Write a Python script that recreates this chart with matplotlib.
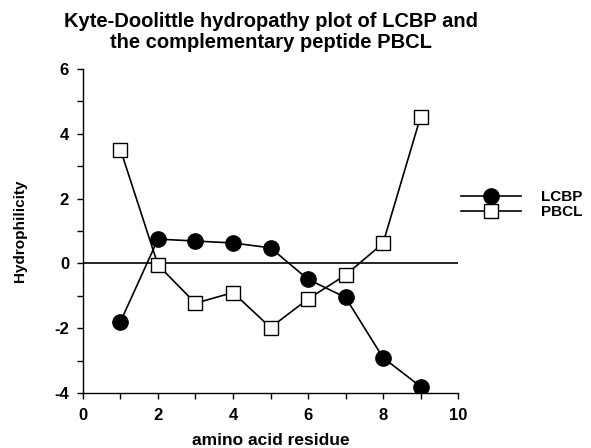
import matplotlib
matplotlib.use("Agg")
import matplotlib.pyplot as plt
from matplotlib.ticker import MultipleLocator

plt.rcParams['font.family'] = ['Liberation Sans', 'DejaVu Sans']
plt.rcParams['font.weight'] = 'bold'
plt.rcParams['axes.unicode_minus'] = False

residue = [1, 2, 3, 4, 5, 6, 7, 8, 9]
lcbp = [-1.8, 0.75, 0.69, 0.63, 0.48, -0.49, -1.05, -2.91, -3.8]
pbcl = [3.51, -0.05, -1.23, -0.9, -1.98, -1.1, -0.36, 0.62, 4.52]

fig = plt.figure(figsize=(5.91, 4.48), dpi=100)
ax = fig.add_axes([0.1404, 0.1228, 0.6346, 0.7232])

l1, = ax.plot(residue, lcbp, color="black", lw=1.2, marker="o", ms=11,
              mfc="black", mec="black", label="LCBP", zorder=3)
l2, = ax.plot(residue, pbcl, color="black", lw=1.2, marker="s", ms=10,
              mfc="white", mec="black", mew=1.0, label="PBCL", zorder=3)
ax.axhline(0, color="black", lw=1.2, zorder=2)

ax.set_xlim(0, 10)
ax.set_ylim(-4, 6)
ax.xaxis.set_major_locator(MultipleLocator(2))
ax.xaxis.set_minor_locator(MultipleLocator(1))
ax.yaxis.set_major_locator(MultipleLocator(2))
ax.yaxis.set_minor_locator(MultipleLocator(1))
ax.tick_params(which="both", direction="out", length=4, width=1)
ax.tick_params(axis="x", labelsize=12, pad=7)
ax.tick_params(axis="y", labelsize=12, pad=6)
for s in ["top", "right"]:
    ax.spines[s].set_visible(False)
ax.spines["left"].set_linewidth(1)
ax.spines["bottom"].set_linewidth(1)

ax.set_xlabel("amino acid residue", fontsize=12.5, fontweight="bold", labelpad=7)
ax.set_ylabel("Hydrophilicity", fontsize=11, fontweight="bold", labelpad=20)

# title, two lines centred over the axes
cx = 0.4585
fig.text(cx, 1 - 27 / 448, "Kyte-Doolittle hydropathy plot of LCBP and",
         ha="center", va="baseline", fontsize=14.5, fontweight="bold")
fig.text(cx, 1 - 48 / 448, "the complementary peptide PBCL",
         ha="center", va="baseline", fontsize=14.5, fontweight="bold")

fig.legend(handles=[l1, l2], loc="center left", bbox_to_anchor=(0.757, 0.543),
           frameon=False, handlelength=3.9, labelspacing=0.05, handletextpad=1.3,
           prop={"size": 11, "weight": "bold"})

fig.savefig("out.png", dpi=100)
